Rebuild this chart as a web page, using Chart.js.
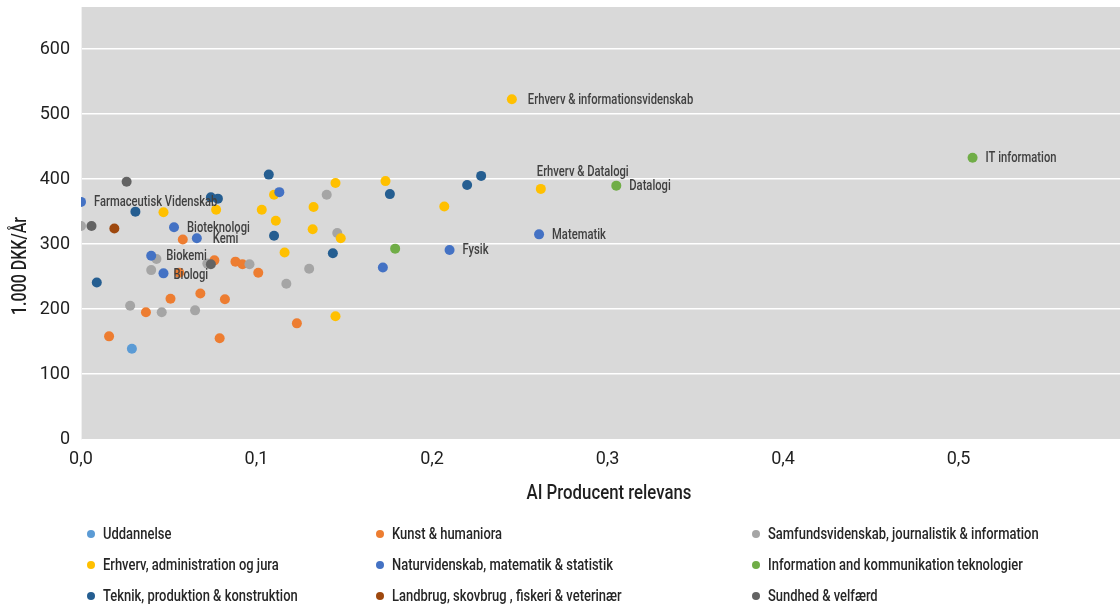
<!DOCTYPE html>
<html>
<head>
<meta charset="utf-8">
<script src="https://cdn.jsdelivr.net/npm/chart.js@4.4.1/dist/chart.umd.min.js"></script>
<style>
  body { margin: 0; background: #fff; }
  #wrap { width: 1120px; height: 608px; }
</style>
</head>
<body>
<div id="wrap"><canvas id="scatterChart" width="1120" height="608"></canvas></div>
<script>
var seriesNames = [
    "Uddannelse",
    "Kunst & humaniora",
    "Samfundsvidenskab, journalistik & information",
    "Erhverv, administration og jura",
    "Naturvidenskab, matematik & statistik",
    "Information and kommunikation teknologier",
    "Teknik, produktion & konstruktion",
    "Landbrug, skovbrug , fiskeri & veterinær",
    "Sundhed & velfærd"
];
var seriesColors = ["#5b9bd5", "#ed7d31", "#a5a5a5", "#ffc000", "#4472c4", "#70ad47", "#255e91", "#9e480e", "#636363"];

var uddannelseX = [0.029];
var uddannelseY = [139];

var kunstX = [0.058, 0.056, 0.037, 0.051, 0.068, 0.082, 0.076, 0.088, 0.092, 0.101, 0.123, 0.016, 0.079];
var kunstY = [307, 256, 195, 216, 224, 215, 275, 273, 269, 256, 178, 158, 155];

var samfundX = [0.0, 0.043, 0.040, 0.028, 0.046, 0.065, 0.072, 0.096, 0.140, 0.146, 0.130, 0.117];
var samfundY = [328, 277, 260, 205, 195, 198, 270, 269, 376, 317, 262, 239];

var erhvervX = [0.047, 0.077, 0.110, 0.103, 0.111, 0.145, 0.1325, 0.132, 0.148, 0.116, 0.145, 0.1735, 0.207, 0.262, 0.2455];
var erhvervY = [349, 353, 376, 353, 336, 394, 357, 323, 309, 287, 189, 397, 358, 385, 523];
var erhvervLabels = ["", "", "", "", "", "", "", "", "", "", "", "", "", "Erhverv & Datalogi", "Erhverv & informationsvidenskab"];

var naturX = [0.0, 0.113, 0.053, 0.066, 0.040, 0.047, 0.172, 0.210, 0.261];
var naturY = [365, 380, 326, 309, 282, 255, 264, 291, 315];
var naturLabels = ["Farmaceutisk Videnskab", "", "Bioteknologi", "Kemi", "Biokemi", "Biologi", "", "Fysik", "Matematik"];

var ictX = [0.179, 0.305, 0.508];
var ictY = [293, 390, 433];
var ictLabels = ["", "Datalogi", "IT information"];

var teknikX = [0.031, 0.074, 0.078, 0.107, 0.110, 0.1435, 0.009, 0.176, 0.220, 0.228];
var teknikY = [350, 372, 370, 407, 313, 286, 241, 377, 391, 405];

var landbrugX = [0.019];
var landbrugY = [324];

var sundhedX = [0.026, 0.006, 0.074];
var sundhedY = [396, 328, 269];

var xTicks = [0.0, 0.1, 0.2, 0.3, 0.4, 0.5];
var yTicks = [0, 100, 200, 300, 400, 500, 600];

var fontName = "Roboto";

function makePoints(xs, ys, labels) {
    var pts = [];
    for (let i = 0; i < xs.length; i++) {
        pts.push({ x: xs[i], y: ys[i], label: labels ? labels[i] : "" });
    }
    return pts;
}

var allSeries = [
    makePoints(uddannelseX, uddannelseY),
    makePoints(kunstX, kunstY),
    makePoints(samfundX, samfundY),
    makePoints(erhvervX, erhvervY, erhvervLabels),
    makePoints(naturX, naturY, naturLabels),
    makePoints(ictX, ictY, ictLabels),
    makePoints(teknikX, teknikY),
    makePoints(landbrugX, landbrugY),
    makePoints(sundhedX, sundhedY)
];

var datasets = allSeries.map(function(pts, i) {
    return {
        label: seriesNames[i],
        data: pts,
        backgroundColor: seriesColors[i],
        borderWidth: 0,
        pointRadius: 5,
        pointHoverRadius: 5,
        order: -i
    };
});

// label placement relative to the point
var labelOffsets = {
    "Erhverv & Datalogi": { dx: -4, dy: -16 },
    "Kemi": { dx: 16, dy: 1 },
    "Biokemi": { dx: 15, dy: 1 },
    "Biologi": { dx: 10, dy: 2 },
    "Erhverv & informationsvidenskab": { dx: 16, dy: 1 }
};

// narrow text: the original uses a condensed face we don't have
function narrowText(ctx, text, x, y, align, squeeze) {
    ctx.save();
    ctx.translate(x, y);
    ctx.scale(squeeze || 0.82, 1);
    ctx.textAlign = align || "left";
    ctx.fillText(text, 0, 0);
    ctx.restore();
}

var backgroundPlugin = {
    id: "plotBackground",
    beforeDraw: function(chart) {
        var a = chart.chartArea;
        var ctx = chart.ctx;
        ctx.save();
        ctx.fillStyle = "#d9d9d9";
        ctx.fillRect(a.left, a.top, a.right - a.left, a.bottom - a.top);
        ctx.restore();
    }
};

var labelPlugin = {
    id: "pointLabels",
    afterDatasetsDraw: function(chart) {
        var ctx = chart.ctx;
        ctx.save();
        ctx.font = "500 14px " + fontName;
        ctx.fillStyle = "#404040";
        ctx.textBaseline = "middle";
        chart.data.datasets.forEach(function(ds, i) {
            var meta = chart.getDatasetMeta(i);
            ds.data.forEach(function(p, j) {
                if (!p.label) return;
                var el = meta.data[j];
                var off = labelOffsets[p.label] || { dx: 13, dy: 1 };
                narrowText(ctx, p.label, el.x + off.dx, el.y + off.dy, "left", 0.8);
            });
        });
        ctx.restore();
    },
    afterDraw: function(chart) {
        var ctx = chart.ctx;
        ctx.save();
        ctx.font = "500 20px " + fontName;
        ctx.fillStyle = "#1f1f1f";
        ctx.textBaseline = "middle";
        narrowText(ctx, "AI Producent relevans", 609, 494, "center", 0.84);
        ctx.translate(21, 266);
        ctx.rotate(-Math.PI / 2);
        narrowText(ctx, "1.000 DKK/År", 0, 0, "center", 0.8);
        ctx.restore();

        // legend, three columns
        var colX = [91, 380, 756];
        var rowY = [534, 565, 596];
        ctx.save();
        ctx.font = "500 16px " + fontName;
        ctx.textBaseline = "middle";
        chart.data.datasets.forEach(function(ds, i) {
            var x = colX[i % 3];
            var y = rowY[Math.floor(i / 3)];
            ctx.fillStyle = ds.backgroundColor;
            ctx.beginPath();
            ctx.arc(x, y, 4, 0, Math.PI * 2);
            ctx.fill();
            ctx.fillStyle = "#262626";
            narrowText(ctx, ds.label, x + 12, y + 1, "left", 0.81);
        });
        ctx.restore();
    }
};

function commaFormat(v) {
    return v.toFixed(1).replace(".", ",");
}

function noPadding(scale) {
    scale.paddingTop = 0;
    scale.paddingBottom = 0;
    scale.paddingLeft = 0;
    scale.paddingRight = 0;
}

new Chart(document.getElementById("scatterChart"), {
    type: "scatter",
    data: { datasets: datasets },
    plugins: [backgroundPlugin, labelPlugin],
    options: {
        responsive: false,
        animation: false,
        devicePixelRatio: 1,
        layout: { autoPadding: false, padding: { top: 7, right: 0, bottom: 0, left: 0 } },
        plugins: {
            legend: { display: false },
            tooltip: { enabled: false }
        },
        scales: {
            x: {
                type: "linear",
                min: 0,
                max: 0.592,
                afterFit: function(scale) { scale.height = 169; noPadding(scale); },
                afterBuildTicks: function(scale) {
                    scale.ticks = xTicks.map(function(v) { return { value: v }; });
                },
                ticks: {
                    padding: 10,
                    color: "#1f1f1f",
                    font: { family: fontName, size: 18 },
                    callback: function(v) { return commaFormat(v); }
                },
                grid: { display: false, drawTicks: false },
                border: { display: false }
            },
            y: {
                type: "linear",
                min: 0,
                max: 665,
                afterFit: function(scale) { scale.width = 81; noPadding(scale); },
                afterBuildTicks: function(scale) {
                    scale.ticks = yTicks.map(function(v) { return { value: v }; });
                },
                ticks: {
                    padding: 11,
                    color: "#1f1f1f",
                    font: { family: fontName, size: 18 }
                },
                grid: {
                    drawTicks: false,
                    lineWidth: 1.5,
                    color: function(c) { return c.tick && c.tick.value === 0 ? "rgba(0,0,0,0)" : "#ffffff"; }
                },
                border: { display: true, color: "#f0f0f0", width: 1 }
            }
        }
    }
});
</script>
</body>
</html>
